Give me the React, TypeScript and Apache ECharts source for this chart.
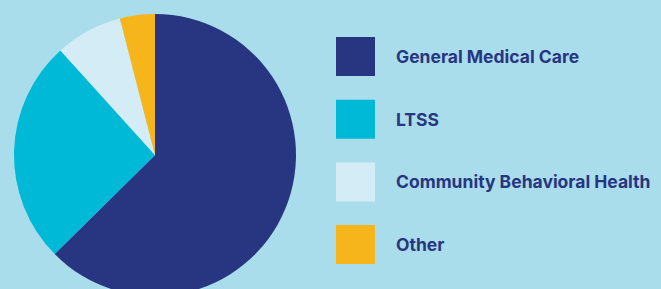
import React, { useEffect, useRef } from "react";
import * as echarts from "echarts";

const categories = ["General Medical Care", "LTSS", "Community Behavioral Health", "Other"];
const values = [62.6, 25.7, 7.7, 4.0];
const colors = ["#283580", "#00B9D6", "#D3ECF5", "#F6B51B"];

export default function App() {
  const ref = useRef<HTMLDivElement>(null);
  useEffect(() => {
    document.body.style.margin = "0";
    const chart = echarts.init(ref.current!, null, { renderer: "svg" });
    chart.setOption({
      animation: false,
      backgroundColor: "#A9DDEB",
      color: colors,
      legend: {
        orient: "vertical",
        left: 336,
        top: 37,
        padding: 0,
        itemWidth: 39,
        itemHeight: 39,
        itemGap: 23.7,
        icon: "rect",
        data: categories,
        selectedMode: false,
        textStyle: {
          color: "#283580",
          fontFamily: "Inter",
          fontWeight: "bold",
          fontSize: 17.5,
          padding: [0, 0, 3, 16],
        },
      },
      series: [
        {
          type: "pie",
          center: [155, 155],
          radius: 141,
          startAngle: 90,
          clockwise: true,
          label: { show: false },
          labelLine: { show: false },
          emphasis: { disabled: true },
          itemStyle: { borderWidth: 0 },
          data: categories.map((name, i) => ({ name, value: values[i] })),
        },
      ],
    });
    return () => chart.dispose();
  }, []);
  return <div ref={ref} style={{ width: 661, height: 289 }} />;
}
